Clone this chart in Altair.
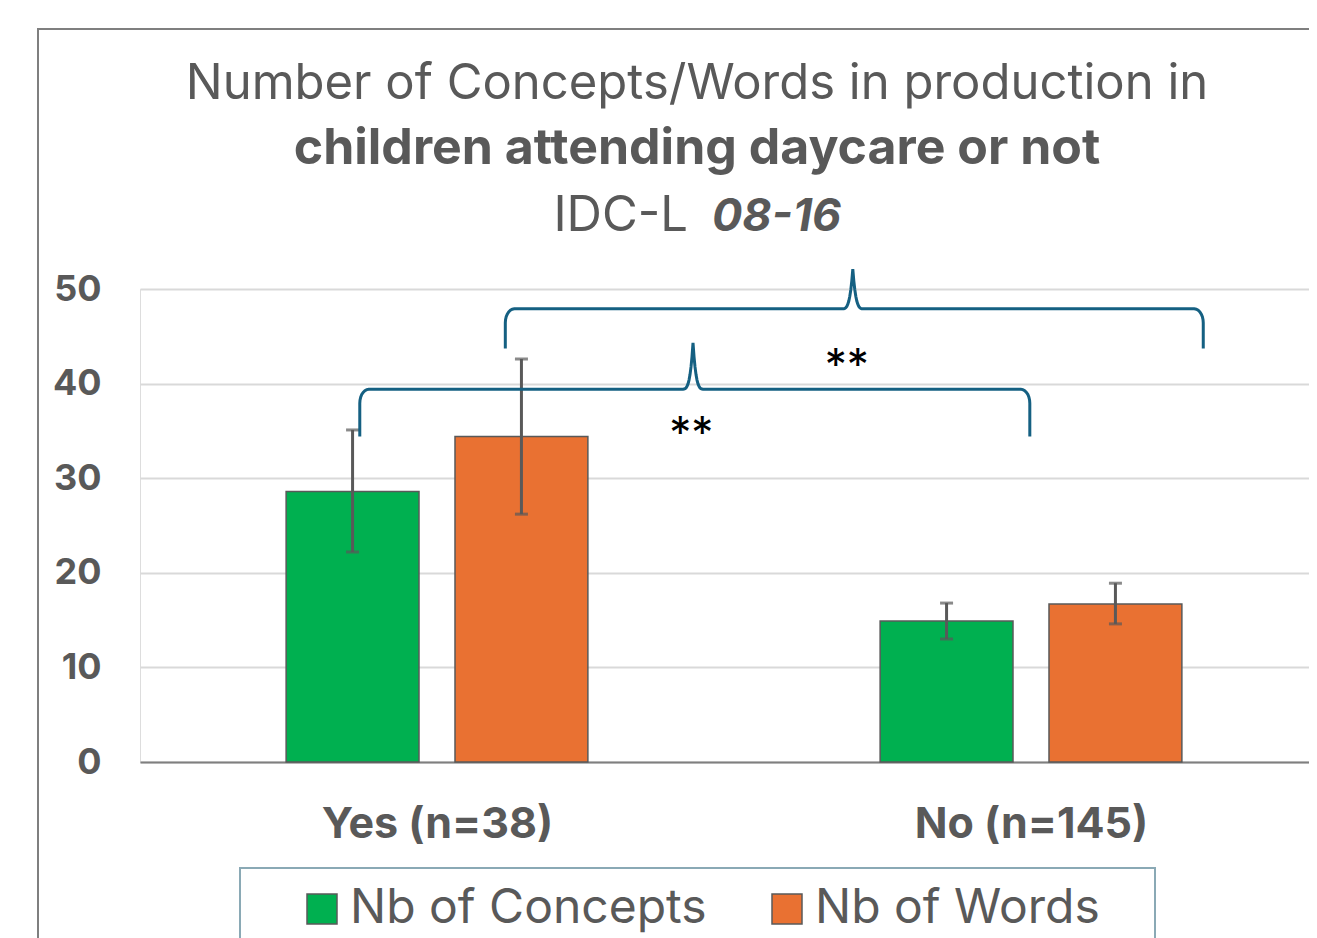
import json
import math
import altair as alt
import pandas as pd

# ---------------- data ----------------
groups = ["Yes (n=38)", "No (n=145)"]
series = ["Nb of Concepts", "Nb of Words"]
concepts_mean = [28.6, 14.9]
words_mean = [34.4, 16.7]
concepts_low = [22.2, 13.0]
concepts_high = [35.1, 16.8]
words_low = [26.2, 14.6]
words_high = [42.6, 18.9]

# significance braces (x in group-index units, y in data units)
brace_from = [-0.13, 0.115]
brace_to = [0.998, 1.29]
brace_tip = [0.431, 0.70]
brace_level = [39.4, 47.9]
brace_foot = [34.4, 43.7]
brace_peak = [44.3, 52.1]
star_x = [0.428, 0.690]
star_y = [35.3, 42.5]
star_text = ["**", "**"]

title_line1 = "Number of Concepts/Words in production in"
title_line2 = "children attending daycare or not"
title_line3a = "IDC-L"
title_line3b = "08-16"

# ---------------- style / layout ----------------
FONT = "Inter"
GRAY = "#595959"
GREEN = "#00B050"
ORANGE = "#E97132"
BRACE = "#156082"
W, H = 1169, 473
X_DOMAIN = [-0.5, -0.5 + 1169 / 594.0]
Y_DOMAIN = [0, 50]
PX = W / (X_DOMAIN[1] - X_DOMAIN[0])
PY = H / (Y_DOMAIN[1] - Y_DOMAIN[0])
BAR_IN, BAR_OUT = 0.0303, 0.254

xs = alt.Scale(domain=X_DOMAIN, nice=False, zero=False)
ys = alt.Scale(domain=Y_DOMAIN, nice=False)

rows = []
for i, g in enumerate(groups):
    for s, m, lo, hi, sign in [
        (series[0], concepts_mean[i], concepts_low[i], concepts_high[i], -1),
        (series[1], words_mean[i], words_low[i], words_high[i], 1),
    ]:
        a = i + sign * BAR_IN
        b = i + sign * BAR_OUT
        rows.append({"group": g, "series": s, "mean": m, "low": lo, "high": hi,
                     "x0": min(a, b), "x1": max(a, b), "xc": (a + b) / 2})
df = pd.DataFrame(rows)
caps = pd.concat([df.assign(v=df["low"]), df.assign(v=df["high"])])

# brace paths
bpts = []
for k in range(len(brace_from)):
    x0, x1, tp = brace_from[k], brace_to[k], brace_tip[k]
    yh, yb, yt = brace_level[k], brace_foot[k], brace_peak[k]
    rx, ry, cw = 9, 14, 12
    pts = [(x0, yb)]
    for j in range(8):
        th = math.radians(90 * j / 7)
        pts.append((x0 + rx * (1 - math.cos(th)) / PX, yh - ry * (1 - math.sin(th)) / PY))
    for j in range(25):
        t = -1 + 2 * j / 24
        pts.append((tp + t * cw / PX, yh + (yt - yh) * (1 - abs(t)) ** 4))
    for j in range(7, -1, -1):
        th = math.radians(90 * j / 7)
        pts.append((x1 - rx * (1 - math.cos(th)) / PX, yh - ry * (1 - math.sin(th)) / PY))
    pts.append((x1, yb))
    for o, (px_, py_) in enumerate(pts):
        bpts.append({"brace": k, "o": o, "x": px_, "y": py_})
braces_df = pd.DataFrame(bpts)
stars_df = pd.DataFrame({"x": star_x, "y": star_y, "t": star_text})

one = alt.Data(values=[{}])

label_expr = json.dumps(groups) + "[datum.value]"

bars = alt.Chart(df).mark_rect(stroke=GRAY, strokeWidth=1.5).encode(
    x=alt.X("x0:Q", scale=xs, axis=alt.Axis(
        values=[0, 1], labelExpr=label_expr, title=None, grid=False, ticks=False,
        domainColor="#7f7f7f", domainWidth=2, labelFont=FONT, labelFontSize=43,
        labelFontWeight="bold", labelColor=GRAY, labelPadding=41, labelFlush=False,
        labelLimit=600)),
    x2="x1:Q",
    y=alt.Y("mean:Q", scale=ys, axis=alt.Axis(
        values=[0, 10, 20, 30, 40, 50], title=None, domain=False, ticks=False,
        gridColor="#d9d9d9", gridWidth=2, labelFont=FONT, labelFontSize=36,
        labelFontWeight="bold", labelColor=GRAY, labelPadding=39, labelFlush=False)),
    y2=alt.datum(0),
    color=alt.Color("series:N", scale=alt.Scale(domain=series, range=[GREEN, ORANGE]),
                    legend=alt.Legend(
                        orient="none", legendX=158, legendY=596, direction="horizontal",
                        title=None, symbolType="square", symbolSize=900,
                        symbolStrokeColor=GRAY, symbolStrokeWidth=1.5, symbolOpacity=1,
                        labelFont=FONT, labelFontSize=48, labelColor=GRAY,
                        labelOffset=4, columnPadding=56, padding=0, labelLimit=600)),
)

err = alt.Chart(df).mark_rule(color=GRAY, strokeWidth=3).encode(
    x=alt.X("xc:Q", scale=xs), y=alt.Y("low:Q", scale=ys), y2="high:Q")
cap = alt.Chart(caps).mark_tick(color=GRAY, orient="horizontal", size=13, thickness=3).encode(
    x=alt.X("xc:Q", scale=xs), y=alt.Y("v:Q", scale=ys))

brace = alt.Chart(braces_df).mark_line(color=BRACE, strokeWidth=3, clip=False).encode(
    x=alt.X("x:Q", scale=xs), y=alt.Y("y:Q", scale=ys), detail="brace:N", order="o:Q")

stars = alt.Chart(stars_df).mark_text(font=FONT, fontSize=44, color="black",
                                      baseline="middle", dy=7).encode(
    x=alt.X("x:Q", scale=xs), y=alt.Y("y:Q", scale=ys), text="t:N")

frame = alt.Chart(one).mark_rect(fillOpacity=0, stroke="#7f7f7f", strokeWidth=2).encode(
    x=alt.value(-102), x2=alt.value(W + 200), y=alt.value(-260), y2=alt.value(H + 400))
legend_box = alt.Chart(one).mark_rect(fillOpacity=0, stroke="#8aa9b5", strokeWidth=2).encode(
    x=alt.value(100), x2=alt.value(1015), y=alt.value(579), y2=alt.value(H + 300))

t1 = alt.Chart(one).mark_text(font=FONT, fontSize=49, color=GRAY, align="center",
                              baseline="alphabetic", text=title_line1).encode(
    x=alt.value(557), y=alt.value(-190))
t2 = alt.Chart(one).mark_text(font=FONT, fontSize=50, fontWeight="bold", color=GRAY,
                              align="center", baseline="alphabetic", text=title_line2).encode(
    x=alt.value(557), y=alt.value(-125))
t3a = alt.Chart(one).mark_text(font=FONT, fontSize=49, color=GRAY, align="right",
                               baseline="alphabetic", text=title_line3a).encode(
    x=alt.value(548), y=alt.value(-58))
t3b = alt.Chart(one).mark_text(font=FONT, fontSize=45, fontWeight="bold", fontStyle="italic",
                               color=GRAY, align="left", baseline="alphabetic",
                               text=title_line3b).encode(
    x=alt.value(572), y=alt.value(-58))

chart = alt.layer(frame, legend_box, bars, err, cap, brace, stars, t1, t2, t3a, t3b).properties(
    width=W, height=H,
    padding={"left": 132, "top": 281, "right": 0, "bottom": 176},
    autosize=alt.AutoSizeParams(type="none"),
).configure_view(stroke=None).configure(background="white")

chart.save("out.html", embed_options={"renderer": "svg", "actions": False})
